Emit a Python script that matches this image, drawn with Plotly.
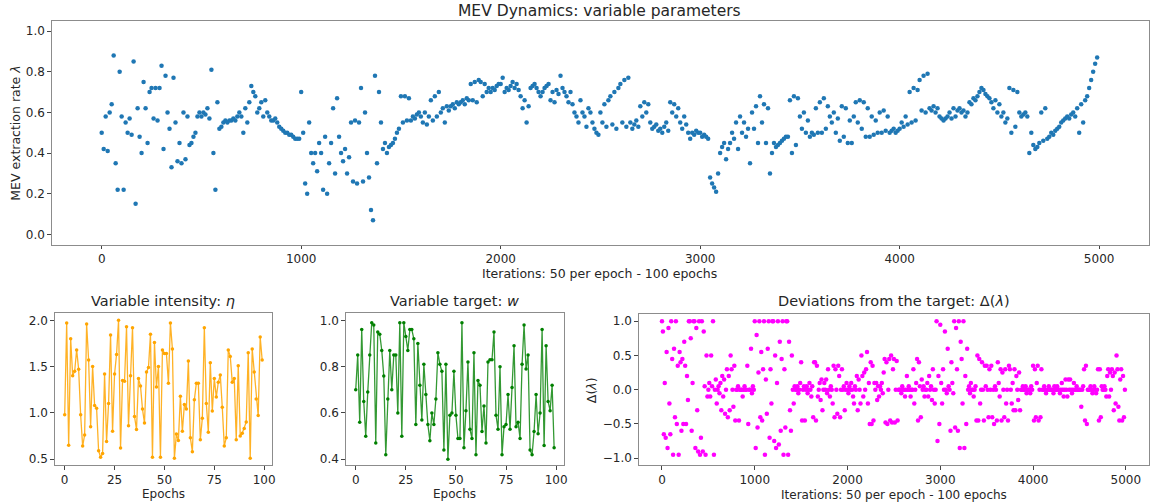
import plotly.graph_objects as go

# ---------------- data ----------------
# MEV extraction rate lambda, sampled every 10 iterations (5 samples per epoch)
lam = [
    0.50, 0.42, 0.58, 0.41, 0.60,  0.64, 0.88, 0.35, 0.22, 0.80,
    0.58, 0.22, 0.55, 0.50, 0.57,  0.49, 0.85, 0.15, 0.62, 0.48,
    0.40, 0.75, 0.62, 0.45, 0.70,  0.72, 0.57, 0.72, 0.56, 0.72,
    0.83, 0.42, 0.78, 0.60, 0.52,  0.33, 0.77, 0.55, 0.36, 0.45,
    0.35, 0.60, 0.37, 0.58, 0.44,  0.45, 0.48, 0.50, 0.58, 0.60,
    0.58, 0.60, 0.59, 0.62, 0.57,  0.81, 0.40, 0.22, 0.65, 0.52,
    0.53, 0.55, 0.56, 0.55, 0.56,  0.56, 0.57, 0.56, 0.58, 0.60,
    0.58, 0.50, 0.62, 0.55, 0.65,  0.73, 0.70, 0.68, 0.60, 0.62,
    0.65, 0.58, 0.66, 0.60, 0.58,  0.56, 0.56, 0.57, 0.55, 0.53,
    0.52, 0.51, 0.50, 0.50, 0.49,  0.49, 0.48, 0.47, 0.47, 0.47,
    0.70, 0.50, 0.25, 0.20, 0.55,  0.40, 0.35, 0.40, 0.31, 0.45,
    0.40, 0.22, 0.48, 0.20, 0.35,  0.45, 0.62, 0.30, 0.67, 0.48,
    0.40, 0.36, 0.42, 0.30, 0.38,  0.55, 0.26, 0.56, 0.25, 0.55,
    0.72, 0.26, 0.60, 0.40, 0.28,  0.12, 0.07, 0.78, 0.35, 0.70,
    0.55, 0.42, 0.45, 0.40, 0.43,  0.44, 0.45, 0.47, 0.50, 0.52,
    0.68, 0.55, 0.68, 0.56, 0.67,  0.56, 0.58, 0.57, 0.59, 0.60,
    0.58, 0.55, 0.60, 0.54, 0.58,  0.66, 0.56, 0.68, 0.58, 0.70,
    0.60, 0.62, 0.55, 0.63, 0.61,  0.63, 0.64, 0.62, 0.65, 0.64,
    0.65, 0.66, 0.64, 0.67, 0.66,  0.74, 0.66, 0.75, 0.65, 0.76,
    0.75, 0.68, 0.74, 0.70, 0.72,  0.70, 0.72, 0.71, 0.73, 0.74,
    0.74, 0.77, 0.70, 0.72, 0.71,  0.73, 0.75, 0.72, 0.74, 0.71,
    0.68, 0.62, 0.66, 0.55, 0.63,  0.72, 0.73, 0.74, 0.72, 0.70,
    0.68, 0.70, 0.72, 0.73, 0.74,  0.66, 0.70, 0.65, 0.71, 0.69,
    0.78, 0.72, 0.70, 0.68, 0.65,  0.70, 0.64, 0.60, 0.58, 0.55,
    0.66, 0.60, 0.58, 0.53, 0.62,  0.60, 0.55, 0.52, 0.50, 0.49,
    0.60, 0.55, 0.64, 0.53, 0.66,  0.68, 0.54, 0.70, 0.52, 0.72,
    0.74, 0.55, 0.76, 0.53, 0.77,  0.55, 0.52, 0.54, 0.56, 0.53,
    0.63, 0.58, 0.65, 0.60, 0.64,  0.55, 0.52, 0.53, 0.54, 0.51,
    0.52, 0.50, 0.53, 0.55, 0.51,  0.65, 0.60, 0.64, 0.58, 0.62,
    0.55, 0.52, 0.58, 0.54, 0.50,  0.47, 0.50, 0.49, 0.51, 0.50,
    0.50, 0.48, 0.49, 0.48, 0.47,  0.28, 0.25, 0.23, 0.21, 0.30,
    0.40, 0.43, 0.45, 0.37, 0.42,  0.45, 0.50, 0.47, 0.55, 0.42,
    0.58, 0.50, 0.55, 0.48, 0.52,  0.35, 0.60, 0.52, 0.63, 0.45,
    0.68, 0.55, 0.64, 0.45, 0.62,  0.30, 0.40, 0.45, 0.43, 0.44,
    0.45, 0.46, 0.47, 0.48, 0.48,  0.66, 0.40, 0.68, 0.44, 0.67,
    0.58, 0.52, 0.60, 0.50, 0.56,  0.48, 0.50, 0.49, 0.62, 0.50,
    0.65, 0.50, 0.67, 0.52, 0.63,  0.58, 0.55, 0.60, 0.50, 0.57,
    0.46, 0.63, 0.48, 0.62, 0.45,  0.56, 0.45, 0.58, 0.65, 0.55,
    0.66, 0.52, 0.65, 0.48, 0.62,  0.48, 0.58, 0.49, 0.56, 0.50,
    0.60, 0.50, 0.61, 0.51, 0.58,  0.50, 0.51, 0.52, 0.50, 0.51,
    0.52, 0.55, 0.53, 0.58, 0.54,  0.70, 0.55, 0.72, 0.56, 0.71,
    0.76, 0.61, 0.78, 0.60, 0.79,  0.62, 0.61, 0.63, 0.60, 0.62,
    0.58, 0.57, 0.56, 0.57, 0.58,  0.60, 0.57, 0.62, 0.58, 0.61,
    0.62, 0.60, 0.61, 0.58, 0.60,  0.65, 0.64, 0.67, 0.66, 0.68,
    0.70, 0.72, 0.71, 0.69, 0.68,  0.67, 0.65, 0.62, 0.66, 0.60,
    0.64, 0.58, 0.60, 0.55, 0.57,  0.72, 0.50, 0.71, 0.53, 0.70,
    0.60, 0.58, 0.59, 0.60, 0.58,  0.40, 0.50, 0.44, 0.42, 0.43,
    0.45, 0.60, 0.46, 0.62, 0.47,  0.48, 0.50, 0.49, 0.51, 0.52,
    0.53, 0.55, 0.56, 0.57, 0.58,  0.57, 0.59, 0.60, 0.58, 0.62,
    0.50, 0.64, 0.55, 0.66, 0.68,  0.72, 0.76, 0.80, 0.84, 0.87,
]

# deviations from the target, same sampling
dev = [
    1.00, 0.85, -0.65, 0.10, -0.70,  0.55, -0.85, 0.90, -0.20, -0.65,
    1.00, 0.45, -0.95, 0.60, -0.40,  1.00, -0.50, 0.35, -0.95, 0.55,
    0.40, -0.60, 0.45, -0.50, 0.70,  0.35, -0.50, 0.20, -0.15, 1.00,
    1.00, 0.75, -0.60, 0.10, 1.00,  1.00, -0.85, 0.90, -0.30, -0.90,
    1.00, -0.95, -0.70, 1.00, -0.90,  0.85, 0.05, -0.95, 0.50, -0.10,
    0.00, 0.10, -0.10, 0.50, 0.05,  1.00, -0.95, 0.00, 0.15, -0.20,
    0.00, 0.05, -0.05, 0.10, -0.30,  0.20, -0.10, 0.15, -0.35, 0.00,
    0.30, -0.40, 0.20, -0.30, 0.50,  0.30, 0.00, -0.25, 0.35, -0.45,
    0.00, 0.00, 0.05, -0.45, 0.00,  0.00, 0.00, -0.10, 0.00, 0.05,
    0.00, 0.00, 0.35, -0.50, 0.00,  0.00, 0.60, -0.05, 0.05, 0.00,
    1.00, -0.85, 0.80, -0.55, 0.25,  1.00, -0.40, 0.55, -0.45, 0.30,
    1.00, -0.95, 0.15, -0.35, 0.60,  1.00, -0.70, 0.30, -0.20, 1.00,
    1.00, -0.75, 0.50, -0.85, 0.10,  1.00, -0.80, 0.70, -0.60, 0.45,
    1.00, -0.95, 0.30, -0.55, 1.00,  1.00, -0.95, 0.70, -0.30, -0.60,
    0.50, 0.00, -0.20, 0.05, 0.00,  0.00, 0.05, -0.05, 0.00, 0.10,
    0.40, -0.45, 0.00, 0.05, -0.45,  0.00, 0.05, -0.05, 0.00, 0.10,
    0.00, -0.10, 0.05, -0.40, 0.40,  0.40, -0.45, 0.35, -0.10, 0.00,
    0.10, -0.15, 0.15, -0.30, 0.00,  0.10, 0.00, 0.15, -0.05, 0.30,
    0.00, -0.10, 0.05, 0.00, -0.20,  0.35, -0.40, 0.30, 0.00, -0.35,
    0.35, 0.20, -0.40, 0.00, 0.30,  0.00, 0.05, -0.30, 0.00, 0.10,
    0.00, -0.05, 0.05, 0.00, 0.10,  0.00, -0.10, -0.20, 0.05, 0.00,
    0.20, -0.30, 0.15, 0.00, -0.20,  0.50, 0.20, -0.10, 0.25, 0.00,
    0.30, 0.55, -0.20, 0.10, -0.50,  0.40, -0.50, 0.35, -0.45, 0.10,
    0.00, 0.10, -0.15, 0.05, -0.10,  0.05, 0.00, 0.10, -0.05, 0.25,
    0.45, -0.48, 0.40, -0.50, 0.00,  0.45, -0.45, 0.50, -0.48, 0.30,
    0.45, -0.48, 0.00, 0.42, -0.45,  0.00, 0.00, 0.00, -0.05, 0.05,
    0.00, 0.00, -0.10, 0.00, 0.20,  0.00, 0.05, 0.00, -0.10, 0.00,
    0.00, 0.30, -0.20, 0.00, 0.10,  0.45, -0.45, 0.40, 0.05, -0.40,
    0.15, 0.00, 0.05, -0.10, 0.00,  0.00, 0.10, -0.10, 0.20, 0.00,
    0.05, -0.15, 0.30, 0.00, -0.20,  0.00, 1.00, -0.75, 0.20, -0.50,
    0.95, 0.10, -0.20, 0.30, 0.00,  0.85, 0.00, -0.05, 0.60, 0.05,
    0.00, -0.60, 0.40, 0.10, -0.05,  1.00, -0.55, 0.90, 0.30, -0.60,
    1.00, -0.85, 0.70, 0.45, -0.20,  1.00, -0.85, 0.20, -0.50, 0.60,
    0.00, 0.05, -0.05, 0.10, 0.00,  0.00, -0.10, 0.00, 0.05, -0.45,
    0.50, -0.45, 0.45, -0.20, 0.00,  0.40, 0.00, -0.45, 0.35, 0.05,
    0.35, 0.00, -0.40, 0.30, 0.00,  0.35, -0.40, 0.00, -0.50, 0.05,
    0.00, -0.45, 0.40, 0.10, -0.10,  0.30, -0.45, 0.25, 0.00, -0.40,
    0.30, -0.20, 0.00, -0.45, 0.35,  0.30, 0.00, -0.20, 0.10, -0.30,
    0.30, -0.30, 0.20, 0.00, -0.15,  0.25, -0.30, 0.00, 0.00, 0.05,
    0.00, 0.00, 0.05, -0.05, 0.00,  0.00, 0.00, -0.05, 0.05, 0.00,
    0.35, -0.45, 0.30, -0.40, 0.10,  0.35, -0.45, 0.00, -0.40, 0.30,
    0.00, 0.00, 0.05, 0.00, -0.05,  0.00, 0.00, 0.05, 0.00, 0.00,
    0.00, 0.00, -0.05, 0.05, 0.00,  0.00, 0.05, 0.00, 0.00, -0.05,
    0.00, 0.10, 0.00, -0.10, 0.00,  0.15, 0.00, -0.10, 0.15, 0.00,
    0.15, 0.00, -0.05, 0.00, 0.10,  0.00, 0.00, 0.05, 0.00, 0.00,
    0.00, 0.00, -0.25, 0.00, 0.05,  0.30, -0.45, 0.35, -0.50, 0.00,
    0.00, 0.00, 0.05, 0.00, -0.05,  0.00, 0.05, 0.00, -0.05, 0.00,
    0.30, -0.45, 0.30, -0.40, 0.05,  0.00, 0.00, 0.05, 0.00, -0.10,
    0.20, 0.30, -0.10, 0.25, 0.00,  0.30, 0.20, -0.30, 0.25, -0.20,
    0.50, 0.30, -0.25, -0.45, 0.15,  0.30, -0.45, 0.20, -0.40, 0.00,
]

# per-epoch intensity eta
eta = [
    0.98, 1.97, 0.65, 1.80, 1.40, 1.45, 1.68, 1.47, 0.98, 0.64,
    0.76, 1.96, 1.57, 0.85, 1.50, 1.08, 1.05, 0.59, 0.52, 0.56,
    1.42, 0.69, 1.10, 1.84, 0.80, 1.42, 1.63, 2.00, 0.62, 1.35,
    1.34, 1.93, 0.86, 1.40, 1.92, 0.96, 0.82, 1.37, 1.29, 1.04,
    0.89, 1.44, 1.49, 1.85, 0.52, 1.76, 1.28, 1.50, 0.52, 1.68,
    1.64, 1.64, 1.32, 1.97, 1.69, 0.51, 0.77, 0.70, 1.18, 0.80,
    1.09, 1.04, 1.56, 0.73, 0.58, 1.14, 1.32, 1.32, 0.71, 0.94,
    1.92, 1.10, 0.79, 1.54, 1.02, 1.37, 1.17, 1.33, 1.41, 1.06,
    0.64, 0.73, 1.68, 1.61, 1.33, 1.37, 0.71, 1.51, 0.75, 0.78,
    0.83, 0.90, 1.65, 0.51, 1.69, 1.44, 1.15, 0.97, 1.82, 1.57,
]

# per-epoch target w
w = [
    0.70, 0.85, 0.56, 0.96, 0.65, 0.50, 0.69, 0.85, 0.99, 0.98,
    0.47, 0.95, 0.94, 0.87, 0.76, 0.42, 0.66, 0.87, 0.70, 0.85,
    0.85, 0.60, 0.99, 0.50, 0.99, 0.93, 0.87, 0.96, 0.96, 0.92,
    0.55, 0.90, 0.72, 0.57, 0.81, 0.68, 0.55, 0.48, 0.60, 0.55,
    0.66, 0.86, 0.81, 0.78, 0.44, 0.81, 0.40, 0.59, 0.60, 0.78,
    0.59, 0.49, 0.49, 0.99, 0.45, 0.61, 0.82, 0.53, 0.49, 0.86,
    0.42, 0.74, 0.72, 0.52, 0.63, 0.47, 0.82, 0.83, 0.83, 0.95,
    0.59, 0.53, 0.80, 0.42, 0.54, 0.55, 0.68, 0.53, 0.71, 0.89,
    0.54, 0.56, 0.49, 0.81, 0.98, 0.79, 0.85, 0.44, 0.42, 0.52,
    0.68, 0.51, 0.60, 0.96, 0.46, 0.89, 0.65, 0.61, 0.72, 0.45,
]

iterations = list(range(0, 5000, 10))
epochs = list(range(len(eta)))

# ---------------- figure ----------------
W, H = 1156, 504
FONT = "DejaVu Sans"
TXT = "#262626"


def dx(px):
    return px / W


def dy(px):
    return 1 - px / H


fig = go.Figure()
fig.add_trace(go.Scatter(x=iterations, y=lam, mode="markers",
                         marker=dict(color="#1f77b4", size=4.5, line=dict(width=0)),
                         xaxis="x", yaxis="y", showlegend=False))
fig.add_trace(go.Scatter(x=epochs, y=eta, mode="lines+markers",
                         line=dict(color="rgba(255,165,0,0.85)", width=1.3),
                         marker=dict(color="#FFA500", size=3.5),
                         xaxis="x2", yaxis="y2", showlegend=False))
fig.add_trace(go.Scatter(x=epochs, y=w, mode="lines+markers",
                         line=dict(color="rgba(0,128,0,0.8)", width=1.3),
                         marker=dict(color="#008000", size=3.5),
                         xaxis="x3", yaxis="y3", showlegend=False))
fig.add_trace(go.Scatter(x=iterations, y=dev, mode="markers",
                         marker=dict(color="#FF00FF", size=4.5, line=dict(width=0)),
                         xaxis="x4", yaxis="y4", showlegend=False))

axis_common = dict(showgrid=False, zeroline=False, showline=True, mirror=True,
                   linecolor="#8c8c8c", linewidth=1, ticks="outside", ticklen=3.5,
                   tickcolor="#444", tickfont=dict(family=FONT, size=12, color=TXT))

fig.update_layout(
    width=W, height=H, margin=dict(l=0, r=0, t=0, b=0),
    paper_bgcolor="white", plot_bgcolor="white",
    font=dict(family=FONT, color=TXT),
    xaxis=dict(domain=[dx(52), dx(1153)], range=[-250, 5250], anchor="y",
               tickvals=[0, 1000, 2000, 3000, 4000, 5000], **axis_common),
    yaxis=dict(domain=[dy(245), dy(21)], range=[-0.05, 1.05], anchor="x",
               tickvals=[0, 0.2, 0.4, 0.6, 0.8, 1.0],
               ticktext=["0.0", "0.2", "0.4", "0.6", "0.8", "1.0"], **axis_common),
    xaxis2=dict(domain=[dx(55), dx(273)], range=[-4.95, 103.95], anchor="y2",
                tickvals=[0, 25, 50, 75, 100], **axis_common),
    yaxis2=dict(domain=[dy(466), dy(314)], range=[0.435, 2.075], anchor="x2",
                tickvals=[0.5, 1.0, 1.5, 2.0], ticktext=["0.5", "1.0", "1.5", "2.0"],
                **axis_common),
    xaxis3=dict(domain=[dx(347), dx(566)], range=[-4.95, 103.95], anchor="y3",
                tickvals=[0, 25, 50, 75, 100], **axis_common),
    yaxis3=dict(domain=[dy(466), dy(314)], range=[0.375, 1.03], anchor="x3",
                tickvals=[0.4, 0.6, 0.8, 1.0], ticktext=["0.4", "0.6", "0.8", "1.0"],
                **axis_common),
    xaxis4=dict(domain=[dx(641), dx(1153)], range=[-250, 5250], anchor="y4",
                tickvals=[0, 1000, 2000, 3000, 4000, 5000], **axis_common),
    yaxis4=dict(domain=[dy(466), dy(315)], range=[-1.1, 1.1], anchor="x4",
                tickvals=[-1, -0.5, 0, 0.5, 1],
                ticktext=["\u22121.0", "\u22120.5", "0.0", "0.5", "1.0"], **axis_common),
)

ann = []


def add_text(x, y, text, size, angle=0):
    ann.append(dict(x=dx(x), y=dy(y), xref="paper", yref="paper", text=text,
                    showarrow=False, xanchor="center", yanchor="middle",
                    textangle=angle, font=dict(family=FONT, size=size, color=TXT)))


add_text(602, 11, "MEV Dynamics: variable parameters", 15.5)
add_text(602, 274, "Iterations: 50 per epoch - 100 epochs", 12.5)
add_text(16, 133, "MEV extraction rate <i>λ</i>", 12.5, -90)
add_text(164, 302, "Variable intensity: <i>η</i>", 14.5)
add_text(164, 495, "Epochs", 12)
add_text(456, 302, "Variable target: <i>w</i>", 14.5)
add_text(456, 495, "Epochs", 12)
add_text(897, 302, "Deviations from the target: Δ(<i>λ</i>)", 14.5)
add_text(897, 496, "Iterations: 50 per epoch - 100 epochs", 12)
add_text(593, 391, "Δ(<i>λ</i>)", 12.5, -90)

fig.update_layout(annotations=ann)
fig.write_html("out.html", config={"displayModeBar": False},
               post_script="document.body.style.margin='0';document.body.style.padding='0';"
                           "document.body.style.overflow='hidden';")
